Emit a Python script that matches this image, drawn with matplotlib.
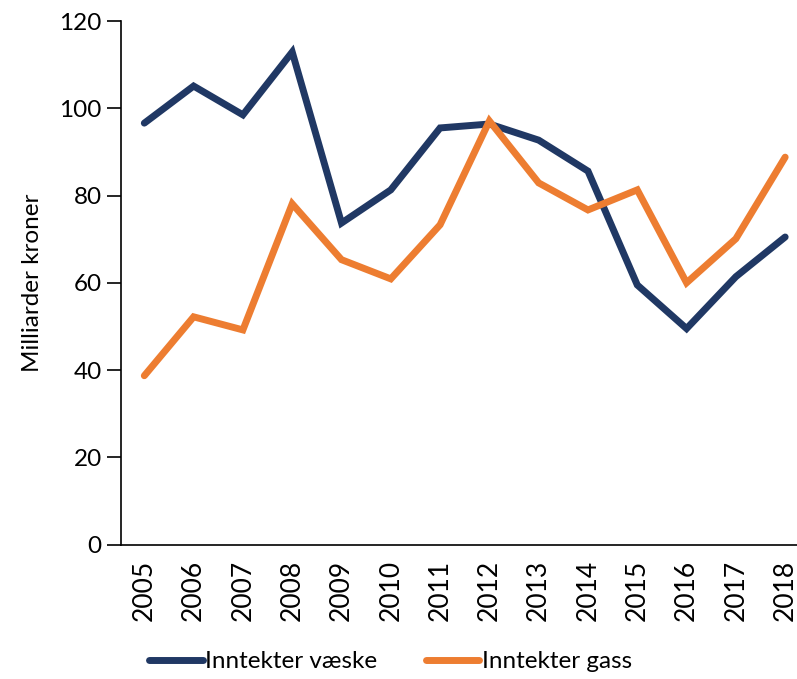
import matplotlib.pyplot as plt
import numpy as np

years = [2005, 2006, 2007, 2008, 2009, 2010, 2011, 2012, 2013, 2014, 2015, 2016, 2017, 2018]
vaeske = [96.6, 105.1, 98.5, 112.9, 73.7, 81.3, 95.5, 96.4, 92.7, 85.6, 59.5, 49.5, 61.4, 70.5]
gass = [38.7, 52.2, 49.2, 78.1, 65.3, 60.9, 73.3, 97.1, 82.9, 76.7, 81.3, 60.0, 70.1, 88.8]

plt.rcParams['font.family'] = ['Lato', 'DejaVu Sans']

fig = plt.figure(figsize=(7.97, 6.79), dpi=100)
ax = fig.add_axes([0.152, 0.198, 0.848, 0.771])

x = np.arange(len(years))
ax.plot(x, vaeske, color='#203864', lw=5, solid_capstyle='round', solid_joinstyle='miter', label='Inntekter væske')
ax.plot(x, gass, color='#ED7D31', lw=5, solid_capstyle='round', solid_joinstyle='miter', label='Inntekter gass')

ax.set_xlim(-0.47, len(years) - 0.76)
ax.set_ylim(0, 120)
ax.set_yticks(range(0, 121, 20))
ax.set_xticks(x)
ax.set_xticklabels([str(y) for y in years], rotation=90)
ax.tick_params(axis='x', length=0, pad=11, labelsize=19)
ax.tick_params(axis='y', length=10, width=1.2, pad=4, labelsize=17.5)
ax.spines['top'].set_visible(False)
ax.spines['right'].set_visible(False)
ax.spines['left'].set_linewidth(1.2)
ax.spines['bottom'].set_linewidth(1.2)
ax.set_ylabel('Milliarder kroner', fontsize=17.5, labelpad=12)

fig.legend(loc='lower center', bbox_to_anchor=(0.49, -0.022), ncol=2, frameon=False,
           fontsize=17.5, handlelength=2.2, handletextpad=0.1, columnspacing=2.0)

fig.savefig('out.png', dpi=100)
